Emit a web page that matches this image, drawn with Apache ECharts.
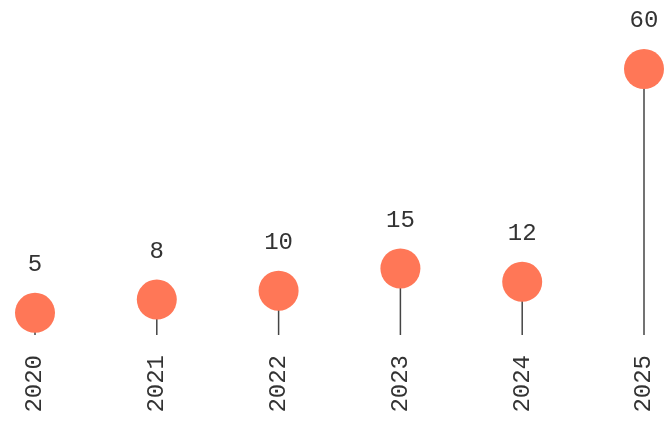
<!DOCTYPE html>
<html>
<head>
<meta charset="utf-8">
<script src="https://cdn.jsdelivr.net/npm/echarts@6/dist/echarts.min.js"></script>
<style>
html,body{margin:0;padding:0;background:#fff;}
#chart{width:664px;height:423px;}
</style>
</head>
<body>
<div id="chart"></div>
<script>
var years = ['2020', '2021', '2022', '2023', '2024', '2025'];
var values = [5, 8, 10, 15, 12, 60];

var FONT = "'Liberation Mono', 'DejaVu Sans Mono', monospace";
var chart = echarts.init(document.getElementById('chart'));
chart.setOption({
  animation: false,
  grid: { left: 35, right: 20, top: 69, bottom: 88, containLabel: false },
  xAxis: {
    type: 'category',
    data: years,
    boundaryGap: false,
    axisLine: { show: false },
    axisTick: { show: false },
    splitLine: { show: false },
    axisLabel: {
      rotate: 90,
      margin: 20,
      color: '#333',
      fontFamily: FONT,
      fontSize: 24
    }
  },
  yAxis: {
    type: 'value',
    min: 0,
    max: 60,
    show: false
  },
  series: [
    {
      type: 'bar',
      data: values,
      barWidth: 1.5,
      itemStyle: { color: '#444' },
      silent: true,
      z: 1
    },
    {
      type: 'scatter',
      data: values,
      symbol: 'circle',
      symbolSize: 40,
      itemStyle: { color: '#FF7757', opacity: 1 },
      label: {
        show: true,
        position: 'top',
        distance: 16,
        color: '#333',
        fontFamily: FONT,
        fontSize: 24
      },
      z: 3
    }
  ]
});
</script>
</body>
</html>
